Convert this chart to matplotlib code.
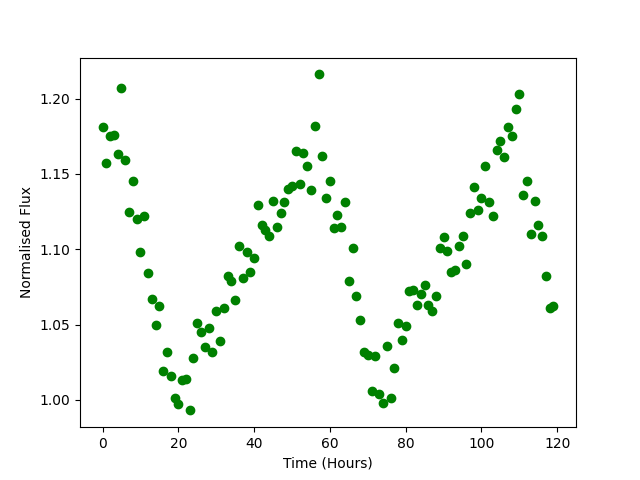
import numpy as np
import matplotlib
matplotlib.use("Agg")
import matplotlib.pyplot as plt

# hourly samples, 0..119
time_hours = list(range(120))

flux = [
    1.181, 1.157, 1.175, 1.176, 1.163, 1.207, 1.159, 1.125, 1.145, 1.120,
    1.098, 1.122, 1.084, 1.067, 1.050, 1.062, 1.019, 1.032, 1.016, 1.001,
    0.997, 1.013, 1.014, 0.993, 1.028, 1.051, 1.045, 1.035, 1.048, 1.032,
    1.059, 1.039, 1.061, 1.082, 1.079, 1.066, 1.102, 1.081, 1.098, 1.085,
    1.094, 1.129, 1.116, 1.113, 1.109, 1.132, 1.115, 1.124, 1.131, 1.140,
    1.142, 1.165, 1.143, 1.164, 1.155, 1.139, 1.182, 1.216, 1.162, 1.134,
    1.145, 1.114, 1.123, 1.115, 1.131, 1.079, 1.101, 1.069, 1.053, 1.032,
    1.030, 1.006, 1.029, 1.004, 0.998, 1.036, 1.001, 1.021, 1.051, 1.040,
    1.049, 1.072, 1.073, 1.063, 1.070, 1.076, 1.063, 1.059, 1.069, 1.101,
    1.108, 1.099, 1.085, 1.086, 1.102, 1.109, 1.090, 1.124, 1.141, 1.126,
    1.134, 1.155, 1.131, 1.122, 1.166, 1.172, 1.161, 1.181, 1.175, 1.193,
    1.203, 1.136, 1.145, 1.110, 1.132, 1.116, 1.109, 1.082, 1.061, 1.062,
]

plt.figure(figsize=(6.4, 4.8), dpi=100)
plt.plot(time_hours, flux, 'o', color='green')
plt.xlabel("Time (Hours)")
plt.ylabel("Normalised Flux")
plt.savefig("out.png", dpi=100)
